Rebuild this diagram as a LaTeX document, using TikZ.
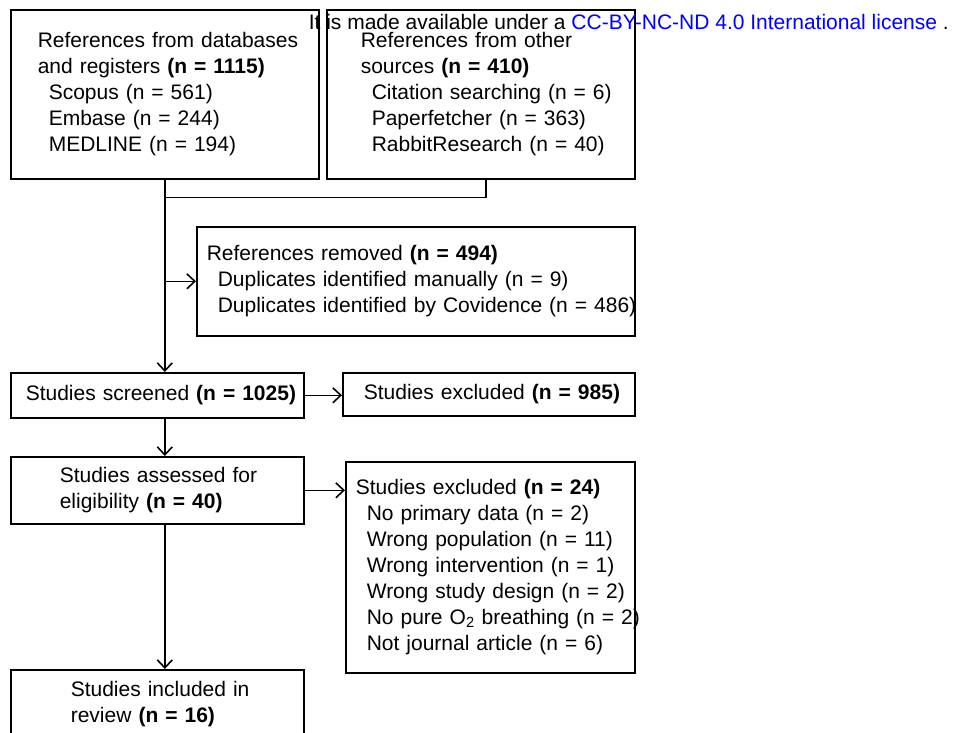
\documentclass[tikz,border=0pt]{standalone}
\usepackage{fontspec}
\setmainfont{Liberation Sans}
\usetikzlibrary{arrows.meta}
\newcommand{\lpad}[1]{\setlength{\leftskip}{#1}\setlength{\rightskip}{0pt plus 1fil minus 200pt}}
\newcommand{\initem}{\hspace*{11pt}}
\begin{document}
\begin{tikzpicture}[x=1pt, y=-1pt, line width=1.6pt, >={Straight Barb[length=8pt,width=15pt]}]
	\useasboundingbox (0,0) rectangle (959,733);
	\begin{scope}[every node/.style={draw, rectangle, anchor=north west, align=left, inner sep=0pt, font=\fontsize{21}{26}\selectfont}]
		\node (dbs)[text width=308pt, minimum height=169pt] at (10,9) {\lpad{27pt}References from databases\\and registers \textbf{(n = 1115)}\\\initem Scopus (n = 561)\\\initem Embase (n = 244)\\\initem MEDLINE (n = 194)\par};
		\node (other)[text width=308pt, minimum height=169pt] at (326,9) {\lpad{34pt}References from other\\sources \textbf{(n = 410)}\\\initem Citation searching (n = 6)\\\initem Paperfetcher (n = 363)\\\initem RabbitResearch (n = 40)\par};
		\node (removed)[text width=438pt, minimum height=109pt] at (196,226) {\lpad{10pt}References removed \textbf{(n = 494)}\\\initem Duplicates identified manually (n = 9)\\\initem Duplicates identified by Covidence (n = 486)\par};
		\node (screened)[text width=293pt, minimum height=45pt] at (10,372) {\lpad{15pt}Studies screened \textbf{(n = 1025)}\par};
		\node (excluded)[text width=292pt, minimum height=43pt] at (342,372) {\lpad{21pt}Studies excluded \textbf{(n = 985)}\par};
		\node (assessed)[text width=293pt, minimum height=67pt] at (10,456) {\lpad{49pt}Studies assessed for\\eligibility \textbf{(n = 40)}\par};
		\node (reasons)[text width=289pt, minimum height=211pt] at (345,461) {\lpad{10pt}Studies excluded \textbf{(n = 24)}\\\initem No primary data (n = 2)\\\initem Wrong population (n = 11)\\\initem Wrong intervention (n = 1)\\\initem Wrong study design (n = 2)\\\initem No pure O\textsubscript{2} breathing (n = 2)\\\initem Not journal article (n = 6)\par};
		\node (included)[text width=293pt, minimum height=68pt] at (10,669) {\lpad{60pt}Studies included in\\review \textbf{(n = 16)}\par};
	\end{scope}
	\node (licence)[anchor=base west, inner sep=0pt, font=\fontsize{21}{26}\selectfont] at (308,30) {It is made available under a \textcolor{blue}{CC-BY-NC-ND 4.0 International license} .};
	\coordinate (join) at ([yshift=-18pt]dbs.south);
	\draw ([xshift=5pt]other.south) |- (join);
	\begin{scope}[every edge/.style={draw}]
		\path [->] (dbs.south) edge (dbs.south |- screened.north);
		\path [->] (dbs.south |- removed.west) edge (removed.west);
		\path [->] (screened.east) edge (screened.east -| excluded.west);
		\path [->] (dbs.south |- screened.south) edge (dbs.south |- assessed.north);
		\path [->] (assessed.east) edge (assessed.east -| reasons.west);
		\path [->] (dbs.south |- assessed.south) edge (dbs.south |- included.north);
	\end{scope}
\end{tikzpicture}
\end{document}
